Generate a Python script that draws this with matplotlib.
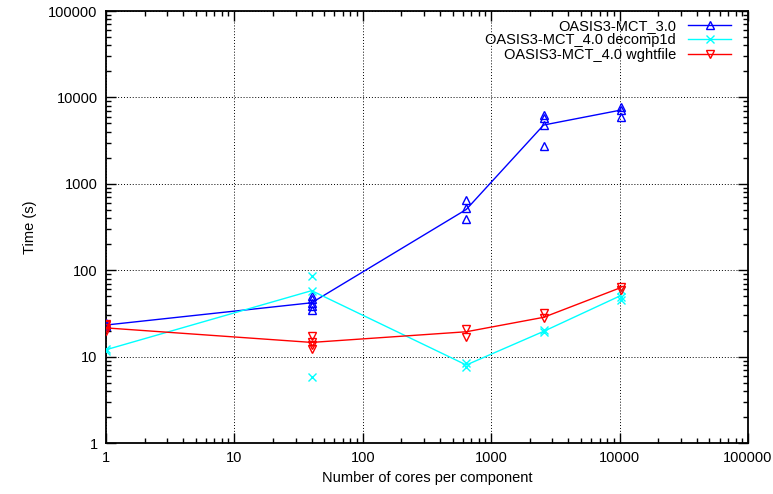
import numpy as np
import matplotlib.pyplot as plt
from matplotlib.ticker import LogLocator, FixedLocator, NullFormatter

plt.rcParams['font.family'] = ['Liberation Sans', 'DejaVu Sans']

# cores per component used in the runs
cores = [1, 40, 640, 2560, 10240]

# OASIS3-MCT_3.0 : line value and individual runs
mct30_line = [23.2, 42, 505, 4790, 7140]
mct30_run_x = [1, 1, 1, 40, 40, 40, 40, 40, 640, 640, 640, 2560, 2560, 2560, 2560, 10240, 10240, 10240]
mct30_run_y = [22.5, 23.5, 24.5, 35, 38.6, 42, 46, 50, 388, 520, 649, 2740, 4790, 5730, 6260, 5980, 7140, 7800]

# OASIS3-MCT_4.0 decomp1d
dec_line = [12, 58, 8.0, 19.6, 51]
dec_run_x = [1, 1, 40, 40, 40, 640, 640, 2560, 2560, 10240, 10240, 10240]
dec_run_y = [11.7, 12.3, 86, 58, 5.85, 8.4, 7.6, 20.3, 19.2, 59, 49.3, 45]

# OASIS3-MCT_4.0 wghtfile
wgt_line = [21.5, 14.6, 19.4, 28.5, 63]
wgt_run_x = [1, 1, 1, 1, 40, 40, 40, 40, 640, 640, 2560, 2560, 10240, 10240]
wgt_run_y = [20, 21.5, 23, 24, 17.3, 14.9, 13.6, 12.4, 20.7, 17, 31.7, 27.7, 64.4, 59]

fig = plt.figure(figsize=(7.73, 4.94), dpi=100)
ax = fig.add_axes([0.137, 0.1032, 0.8307, 0.8745])

def draw_series(line, rx, ry, color, marker, label):
    ax.plot(cores, line, '-', color=color, lw=1.0, zorder=3)
    ax.plot(rx, ry, linestyle='none', marker=marker, ms=5.5, mfc='none',
            mec=color, mew=1.0, zorder=3)
    # proxy only for the legend (line + marker in the middle)
    ax.plot([], [], '-', color=color, lw=1.0, marker=marker, ms=5.5, mfc='none',
            mec=color, mew=1.0, label=label)

draw_series(mct30_line, mct30_run_x, mct30_run_y, '#0000ff', '^', 'OASIS3-MCT_3.0')
draw_series(dec_line, dec_run_x, dec_run_y, '#00ffff', 'x', 'OASIS3-MCT_4.0 decomp1d')
draw_series(wgt_line, wgt_run_x, wgt_run_y, '#ff0000', 'v', 'OASIS3-MCT_4.0 wghtfile')

ax.set_xscale('log')
ax.set_yscale('log')
ax.set_xlim(1, 100000)
ax.set_ylim(1, 100000)

dec = [1, 10, 100, 1000, 10000, 100000]
ax.xaxis.set_major_locator(FixedLocator(dec))
ax.yaxis.set_major_locator(FixedLocator(dec))
ax.set_xticklabels([str(d) for d in dec])
ax.set_yticklabels([str(d) for d in dec])
ax.xaxis.set_minor_locator(LogLocator(base=10, subs=np.arange(2, 10), numticks=20))
ax.yaxis.set_minor_locator(LogLocator(base=10, subs=np.arange(2, 10), numticks=20))
ax.xaxis.set_minor_formatter(NullFormatter())
ax.yaxis.set_minor_formatter(NullFormatter())

ax.tick_params(which='both', direction='in', top=True, right=True, labelsize=10.5)
ax.tick_params(which='major', length=7, width=1.0, pad=6)
ax.tick_params(which='minor', length=3.5, width=1.0)

ax.grid(True, which='major', linestyle=(0, (1, 2)), color='black', lw=0.7)
for s in ax.spines.values():
    s.set_linewidth(1.3)

ax.set_xlabel('Number of cores per component', fontsize=10.5, labelpad=4)
ax.set_ylabel('Time (s)', fontsize=10.5, labelpad=8)

ax.legend(loc='upper right', bbox_to_anchor=(0.99, 1.005), frameon=False, markerfirst=False,
          fontsize=10.5, handlelength=3.0, handletextpad=0.8, labelspacing=0.02,
          borderaxespad=0.3)

fig.savefig('out.png', dpi=100)
